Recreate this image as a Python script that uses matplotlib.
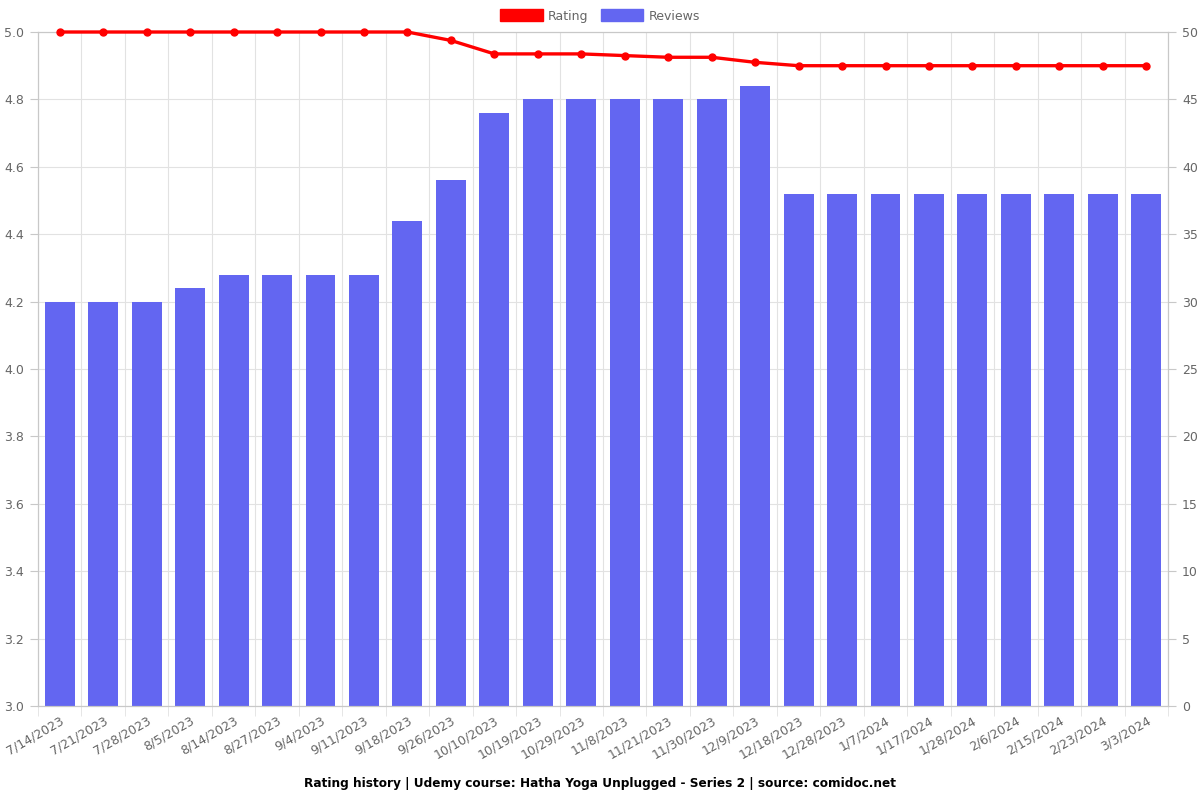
import matplotlib.pyplot as plt
from matplotlib.patches import Patch
import numpy as np

# data
dates = ["7/14/2023", "7/21/2023", "7/28/2023", "8/5/2023", "8/14/2023", "8/27/2023",
         "9/4/2023", "9/11/2023", "9/18/2023", "9/26/2023", "10/10/2023", "10/19/2023",
         "10/29/2023", "11/8/2023", "11/21/2023", "11/30/2023", "12/9/2023", "12/18/2023",
         "12/28/2023", "1/7/2024", "1/17/2024", "1/28/2024", "2/6/2024", "2/15/2024",
         "2/23/2024", "3/3/2024"]
reviews = [30, 30, 30, 31, 32, 32, 32, 32, 36, 39, 44, 45, 45, 45, 45, 45, 46,
           38, 38, 38, 38, 38, 38, 38, 38, 38]
rating = [5.0, 5.0, 5.0, 5.0, 5.0, 5.0, 5.0, 5.0, 5.0, 4.975, 4.935, 4.935, 4.935,
          4.93, 4.925, 4.925, 4.91, 4.90, 4.90, 4.90, 4.90, 4.90, 4.90, 4.90, 4.90, 4.90]

bar_color = "#6366f1"
line_color = "#ff0000"
grid_color = "#e2e2e2"
axis_color = "#c8c8c8"
text_color = "#666666"

x = np.arange(len(dates))

fig = plt.figure(figsize=(12, 8), dpi=100)
ax = fig.add_axes([38 / 1200, 1 - 706 / 800, 1130 / 1200, 674 / 800])

# bars on the primary axes (reviews, ticks on the right)
ax.bar(x, reviews, width=0.69, color=bar_color, zorder=2)
ax.set_ylim(0, 50)
ax.set_yticks(np.arange(0, 51, 5))
ax.set_xlim(-0.5, len(dates) - 0.5)
ax.set_xticks(x)
ax.set_xticklabels(dates, rotation=30, ha="right", rotation_mode="anchor")
ax.set_xticks(np.arange(-0.5, len(dates)), minor=True)
ax.tick_params(axis="x", which="major", length=0, pad=6, labelsize=9, labelcolor=text_color)
ax.tick_params(axis="x", which="minor", length=7, color=grid_color)
ax.grid(axis="y", color=grid_color, linewidth=0.8, zorder=0)
ax.grid(axis="x", which="minor", color=grid_color, linewidth=0.8, zorder=0)
ax.set_axisbelow(True)
for s in ax.spines.values():
    s.set_color(axis_color)

# rating line on the twin axes (ticks on the left)
ax2 = ax.twinx()
ax2.plot(x, rating, color=line_color, linewidth=2.4, marker="o", markersize=5, zorder=3,
         clip_on=False)
ax2.set_ylim(3.0, 5.0)
ax2.set_yticks(np.arange(3.0, 5.01, 0.2))
ax2.set_yticklabels([f"{v:.1f}" for v in np.arange(3.0, 5.01, 0.2)])
ax2.yaxis.tick_left()
ax2.tick_params(axis="y", length=6, pad=4, color=axis_color, labelsize=9, labelcolor=text_color)
for s in ax2.spines.values():
    s.set_color(axis_color)

# twinx moved the review ticks to the left, put them back on the right
ax.yaxis.tick_right()
ax.tick_params(axis="y", length=6, pad=4, color=axis_color, labelsize=9, labelcolor=text_color)

handles = [Patch(color=line_color, label="Rating"), Patch(color=bar_color, label="Reviews")]
fig.legend(handles=handles, loc="center", bbox_to_anchor=(0.5, 1 - 16 / 800), ncol=2,
           frameon=False, fontsize=9, handlelength=3.4, handleheight=1.1,
           columnspacing=1.0, handletextpad=0.4, labelcolor=text_color)

fig.text(0.5, 1 - 783 / 800,
         "Rating history | Udemy course: Hatha Yoga Unplugged - Series 2 | source: comidoc.net",
         ha="center", va="center", fontsize=8.7, fontweight="bold")

fig.savefig("out.png", dpi=100)
